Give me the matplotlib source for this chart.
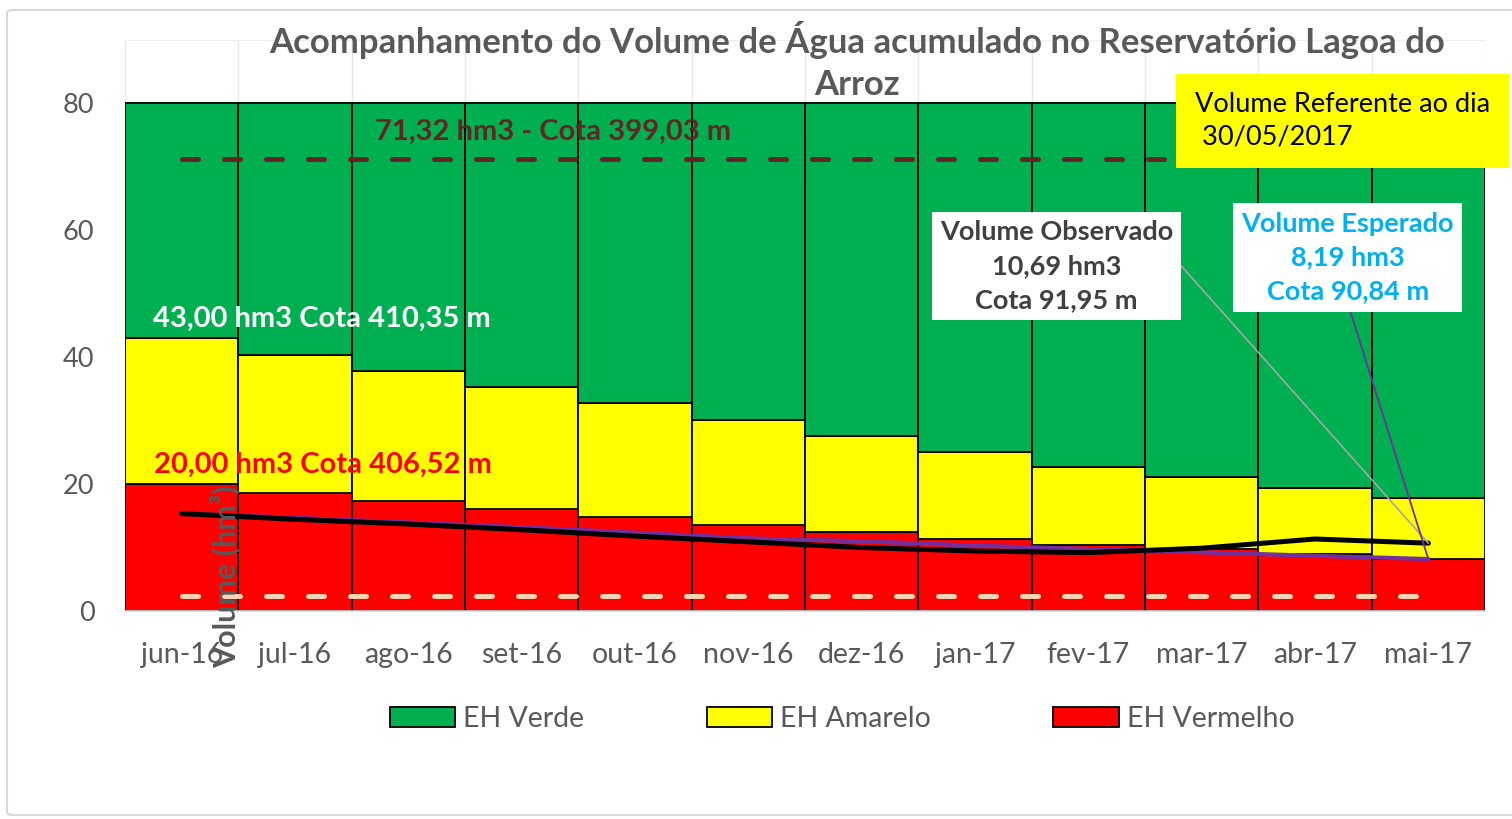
import matplotlib
matplotlib.use('Agg')

import numpy as np
import matplotlib.pyplot as plt
from matplotlib.patches import Patch, FancyBboxPatch

plt.rcParams['font.family'] = ['Lato', 'DejaVu Sans']

# ── dados ──────────────────────────────────────────────────────────
meses = ['jun-16', 'jul-16', 'ago-16', 'set-16', 'out-16', 'nov-16',
         'dez-16', 'jan-17', 'fev-17', 'mar-17', 'abr-17', 'mai-17']

# limites das faixas (hm3)
lim_vermelho = [20.0, 18.65, 17.4, 16.1, 14.8, 13.55, 12.4, 11.3, 10.35, 9.7, 9.05, 8.19]
lim_amarelo = [43.0, 40.3, 37.9, 35.3, 32.8, 30.1, 27.6, 25.1, 22.7, 21.1, 19.35, 17.75]
lim_verde = [80, 80, 80, 80, 80, 80, 80, 80, 80, 80, 80, 80]

vol_observado = [15.35, 14.45, 13.7, 12.8, 11.8, 10.9, 10.0, 9.45, 9.2, 9.9, 11.35, 10.69]
vol_esperado = [15.4, 14.7, 13.95, 13.2, 12.35, 11.45, 11.0, 10.3, 9.77, 9.25, 8.7, 8.19]

cota_max = 71.32      # 399,03 m
vol_minimo = 2.4

# ── cores ──────────────────────────────────────────────────────────
VERDE = '#00B050'
AMARELO = '#FFFF00'
VERMELHO = '#FF0000'
MARROM = '#632523'
PESSEGO = '#FBD4B4'
ROXO = '#7030A0'
CINZA = '#595959'

fig = plt.figure(figsize=(15.12, 8.19), dpi=100, facecolor='white')
ax = fig.add_axes([125 / 1512, 1 - 611 / 819, 1360 / 1512, 571 / 819])

x = np.arange(len(meses))
verm = np.array(lim_vermelho)
amar = np.array(lim_amarelo) - verm
verd = np.array(lim_verde) - np.array(lim_amarelo)

for g in np.arange(-0.5, len(meses) + 0.5, 1):
    ax.axvline(g, color='#E6E6E6', lw=1, zorder=0)

kw = dict(width=1.0, edgecolor='black', linewidth=1.3, zorder=2)
ax.bar(x, verm, color=VERMELHO, **kw)
ax.bar(x, amar, bottom=verm, color=AMARELO, **kw)
ax.bar(x, verd, bottom=np.array(lim_amarelo), color=VERDE, **kw)

# linhas de referência tracejadas
ax.plot(x, [cota_max] * len(x), color=MARROM, lw=3.6, dashes=(3.2, 5.2),
        dash_capstyle='round', zorder=3)
ax.plot(x, [vol_minimo] * len(x), color=PESSEGO, lw=3.6, dashes=(3.2, 5.2),
        dash_capstyle='round', zorder=3)

ax.plot(x, vol_esperado, color=ROXO, lw=3.0, solid_capstyle='round', zorder=4)
ax.plot(x, vol_observado, color='black', lw=3.6, solid_capstyle='round',
        solid_joinstyle='round', zorder=5)

ax.set_xlim(-0.5, len(meses) - 0.5)
ax.set_ylim(0, 90)
ax.set_yticks([0, 20, 40, 60, 80])
ax.set_xticks(x)
ax.set_xticklabels(meses)
ax.tick_params(axis='y', length=0, pad=22, labelsize=19.5, labelcolor=CINZA)
ax.tick_params(axis='x', length=0, pad=22, labelsize=20.5, labelcolor=CINZA)
for s in ['left', 'right']:
    ax.spines[s].set_visible(False)
ax.spines['top'].set_color('#EEEEEE')
ax.spines['bottom'].set_color('#D9D9D9')
ax.spines['bottom'].set_linewidth(1.2)

# textos das faixas
ax.text(3.28, 75.5, '71,32 hm3 - Cota 399,03 m', color=MARROM, fontsize=21,
        fontweight='bold', ha='center', va='center', zorder=6)
ax.text(1.234, 46.0, '43,00 hm3 Cota 410,35 m', color='white', fontsize=21,
        fontweight='bold', ha='center', va='center', zorder=6)
ax.text(1.25, 23.0, '20,00 hm3 Cota 406,52 m', color=VERMELHO, fontsize=21,
        fontweight='bold', ha='center', va='center', zorder=6)

# caixas de anotação
ax.annotate('Volume Observado\n10,69 hm3\nCota 91,95 m',
            xy=(x[-1], vol_observado[-1]), xytext=(7.72, 54.4),
            ha='center', va='center', fontsize=19.5, fontweight='bold',
            color='#404040', linespacing=1.5, zorder=7,
            bbox=dict(boxstyle='square,pad=0.3', fc='white', ec='none'),
            arrowprops=dict(arrowstyle='-', color='#A6A6A6', lw=1.2,
                            relpos=(1, 0.5), shrinkA=0, shrinkB=0,
                            connectionstyle='arc,angleA=0,armA=8,angleB=0,armB=0,rad=0'))
ax.annotate('Volume Esperado\n8,19 hm3\nCota 90,84 m',
            xy=(x[-1], vol_esperado[-1]), xytext=(10.29, 55.7),
            ha='center', va='center', fontsize=19.5, fontweight='bold',
            color='#00B0F0', linespacing=1.5, zorder=7,
            bbox=dict(boxstyle='square,pad=0.3', fc='white', ec='none'),
            arrowprops=dict(arrowstyle='-', color=ROXO, lw=1.3,
                            relpos=(0.5, 0), shrinkA=0, shrinkB=0))

# título
fig.text(857 / 1512, 1 - 61 / 819,
         'Acompanhamento do Volume de Água acumulado no Reservatório Lagoa do\nArroz',
         ha='center', va='center', fontsize=25, fontweight='bold', color=CINZA,
         linespacing=1.42)

# caixa amarela
fig.text(1195 / 1512, 1 - 121 / 819, 'Volume Referente ao dia\n 30/05/2017',
         ha='left', va='center', fontsize=19.5, color='black', linespacing=1.35,
         zorder=10,
         bbox=dict(boxstyle='square,pad=0.7', fc=AMARELO, ec='none'))

# rótulo do eixo y
fig.text(225 / 1512, 1 - 577 / 819, 'Volume (hm³)', rotation=90, ha='center',
         va='center', fontsize=22, fontweight='bold', color=CINZA, zorder=10)

# legenda
handles = [Patch(fc=VERDE, ec='black', lw=1.3, label='EH Verde'),
           Patch(fc=AMARELO, ec='black', lw=1.3, label='EH Amarelo'),
           Patch(fc=VERMELHO, ec='black', lw=1.3, label='EH Vermelho')]
leg = fig.legend(handles=handles, loc='center', ncol=3,
                 bbox_to_anchor=(842 / 1512, 1 - 719 / 819), frameon=False,
                 fontsize=20.5, handlelength=2.3, handleheight=0.65,
                 handletextpad=0.28, columnspacing=4.3)
for t in leg.get_texts():
    t.set_color(CINZA)

# borda do gráfico
fig.patches.append(FancyBboxPatch((7 / 1512, 4 / 819), 1.2, 805 / 819,
                                  boxstyle='round,pad=0,rounding_size=0.004',
                                  transform=fig.transFigure, fc='none',
                                  ec='#D9D9D9', lw=1.5, zorder=0))

fig.savefig('out.png', dpi=100, facecolor='white')
